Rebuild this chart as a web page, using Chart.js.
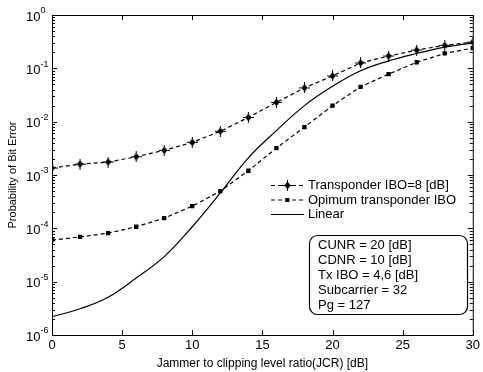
<!DOCTYPE html>
<html>
<head>
<meta charset="utf-8">
<script src="https://cdn.jsdelivr.net/npm/chart.js@4.4.0/dist/chart.umd.min.js"></script>
<style>
html, body { margin: 0; padding: 0; background: #fff; }
#wrap { width: 483px; height: 372px; }
</style>
</head>
<body>
<div id="wrap"><canvas id="ber"></canvas></div>
<script>
// JCR [dB] on the x axis, one point every 2 dB
const jcr = [0, 2, 4, 6, 8, 10, 12, 14, 16, 18, 20, 22, 24, 26, 28, 30];
const transponderBer = [1.35e-3, 1.6e-3, 1.75e-3, 2.2e-3, 2.9e-3, 4.1e-3, 6.6e-3, 1.2e-2, 2.3e-2, 4.3e-2, 7.2e-2, 0.126, 0.17, 0.22, 0.27, 0.31];
const optimumBer = [6.0e-5, 6.9e-5, 8.1e-5, 1.07e-4, 1.55e-4, 2.6e-4, 5.0e-4, 1.2e-3, 3.2e-3, 7.9e-3, 2.0e-2, 4.5e-2, 7.8e-2, 0.13, 0.19, 0.24];
const linearBer = [2.2e-6, 3.1e-6, 5.1e-6, 1.17e-5, 2.95e-5, 1.07e-4, 4.6e-4, 2.1e-3, 6.8e-3, 2.0e-2, 4.6e-2, 9.0e-2, 0.138, 0.19, 0.25, 0.30];
const seriesNames = ['Transponder IBO=8 [dB]', 'Opimum transponder IBO', 'Linear'];
const xTicks = [0, 5, 10, 15, 20, 25, 30];
const yExponents = [0, -1, -2, -3, -4, -5, -6];
const boxLines = ['CUNR = 20 [dB]', 'CDNR = 10 [dB]', 'Tx IBO = 4,6 [dB]', 'Subcarrier = 32', 'Pg = 127'];

const FONT = 'Liberation Sans, Arial, Helvetica, sans-serif';

// star-ish marker: filled diamond with a cross through it
function starMarker() {
    const c = document.createElement('canvas');
    c.width = 11; c.height = 11;
    const g = c.getContext('2d');
    g.fillStyle = '#000';
    g.beginPath();
    g.moveTo(5.5, 1.5); g.lineTo(8.5, 5.5); g.lineTo(5.5, 9.5); g.lineTo(2.5, 5.5);
    g.closePath(); g.fill();
    g.strokeStyle = '#000'; g.lineWidth = 1;
    g.beginPath();
    g.moveTo(5.5, 0); g.lineTo(5.5, 11);
    g.moveTo(0, 5.5); g.lineTo(11, 5.5);
    g.stroke();
    return c;
}
const star = starMarker();

function pts(ys) {
    return jcr.map((x, i) => ({ x: x, y: ys[i] }));
}

const frame = {
    id: 'frame',
    afterDraw(chart) {
        const ctx = chart.ctx;
        const a = chart.chartArea;
        const xs = chart.scales.x, ys = chart.scales.y;
        ctx.save();
        ctx.strokeStyle = '#000';
        ctx.lineWidth = 1;
        ctx.setLineDash([]);
        ctx.strokeRect(a.left + 0.5, a.top + 0.5, a.right - a.left, a.bottom - a.top);

        ctx.beginPath();
        xTicks.forEach(v => {
            const px = Math.round(xs.getPixelForValue(v)) + 0.5;
            ctx.moveTo(px, a.bottom); ctx.lineTo(px, a.bottom - 5);
            ctx.moveTo(px, a.top); ctx.lineTo(px, a.top + 5);
        });
        for (let e = -6; e <= 0; e++) {
            for (let m = 1; m <= 9; m++) {
                if (e === 0 && m > 1) continue;
                const py = Math.round(ys.getPixelForValue(m * Math.pow(10, e))) + 0.5;
                const len = m === 1 ? 5 : 3;
                ctx.moveTo(a.left, py); ctx.lineTo(a.left + len, py);
                ctx.moveTo(a.right, py); ctx.lineTo(a.right - len, py);
            }
        }
        ctx.stroke();

        // y tick labels as 10 with a raised exponent
        ctx.fillStyle = '#000';
        ctx.textBaseline = 'middle';
        ctx.textAlign = 'left';
        yExponents.forEach(e => {
            const py = ys.getPixelForValue(Math.pow(10, e));
            ctx.font = '13px ' + FONT;
            ctx.fillText('10', 26, py + 2);
            const w = ctx.measureText('10').width;
            ctx.font = '9px ' + FONT;
            ctx.fillText(e === 0 ? '0' : '-' + (-e), 26 + w, py - 4);
        });

        // legend
        const rows = [185, 199.5, 214];
        chart.data.datasets.forEach((ds, i) => {
            const y = rows[i] + 0.5;
            ctx.strokeStyle = ds.borderColor;
            ctx.lineWidth = ds.borderWidth;
            ctx.setLineDash(ds.borderDash || []);
            ctx.beginPath();
            ctx.moveTo(271, y); ctx.lineTo(304, y);
            ctx.stroke();
            ctx.setLineDash([]);
            if (ds.pointStyle === star) {
                ctx.drawImage(star, 287.5 - 5.5, y - 5.5);
            } else if (ds.pointRadius > 0) {
                ctx.fillStyle = '#000';
                ctx.fillRect(287.5 - 2, y - 2, 4, 4);
            }
            ctx.fillStyle = '#000';
            ctx.font = '13px ' + FONT;
            ctx.textBaseline = 'middle';
            ctx.fillText(ds.label, 308, y);
        });

        // parameter box
        ctx.lineWidth = 1.2;
        ctx.strokeStyle = '#000';
        ctx.beginPath();
        ctx.roundRect(309.5, 235.5, 158, 79, 8);
        ctx.stroke();
        ctx.font = '13px ' + FONT;
        boxLines.forEach((t, i) => {
            ctx.fillText(t, 318, 245 + i * 15.2);
        });
        ctx.restore();
    }
};

new Chart(document.getElementById('ber'), {
    type: 'line',
    data: {
        datasets: [
            {
                label: seriesNames[0],
                data: pts(transponderBer),
                borderColor: '#000',
                borderWidth: 1.2,
                borderDash: [4, 3],
                pointStyle: star,
                pointRadius: 5,
                tension: 0
            },
            {
                label: seriesNames[1],
                data: pts(optimumBer),
                borderColor: '#000',
                borderWidth: 1.2,
                borderDash: [4, 3],
                pointStyle: 'rect',
                pointRadius: 2.2,
                pointBackgroundColor: '#000',
                pointBorderColor: '#000',
                tension: 0
            },
            {
                label: seriesNames[2],
                data: pts(linearBer),
                borderColor: '#000',
                borderWidth: 1.2,
                pointRadius: 0,
                tension: 0.4
            }
        ]
    },
    options: {
        responsive: true,
        maintainAspectRatio: false,
        animation: false,
        devicePixelRatio: 1,
        layout: { padding: { top: 15, right: 8, left: 0, bottom: 0 } },
        plugins: { legend: { display: false }, tooltip: { enabled: false } },
        scales: {
            x: {
                type: 'linear',
                min: 0,
                max: 30,
                afterBuildTicks: s => { s.ticks = xTicks.map(v => ({ value: v })); },
                ticks: { color: '#000', font: { family: FONT, size: 13 }, padding: 3, maxRotation: 0 },
                grid: { display: false, drawTicks: false },
                border: { display: false },
                title: {
                    display: true,
                    text: 'Jammer to clipping level ratio(JCR) [dB]',
                    color: '#000',
                    font: { family: FONT, size: 12 },
                    padding: { top: 0, bottom: 1 }
                },
                afterFit: s => { s.height = 37; }
            },
            y: {
                type: 'logarithmic',
                min: 1e-6,
                max: 1,
                afterBuildTicks: s => { s.ticks = yExponents.map(e => ({ value: Math.pow(10, e) })); },
                ticks: { callback: () => '' },
                grid: { display: false, drawTicks: false },
                border: { display: false },
                title: {
                    display: true,
                    text: 'Probability of Bit Error',
                    color: '#000',
                    font: { family: FONT, size: 11 },
                    padding: { top: 6, bottom: 0 }
                },
                afterFit: s => { s.width = 52; }
            }
        }
    },
    plugins: [frame]
});
</script>
</body>
</html>
